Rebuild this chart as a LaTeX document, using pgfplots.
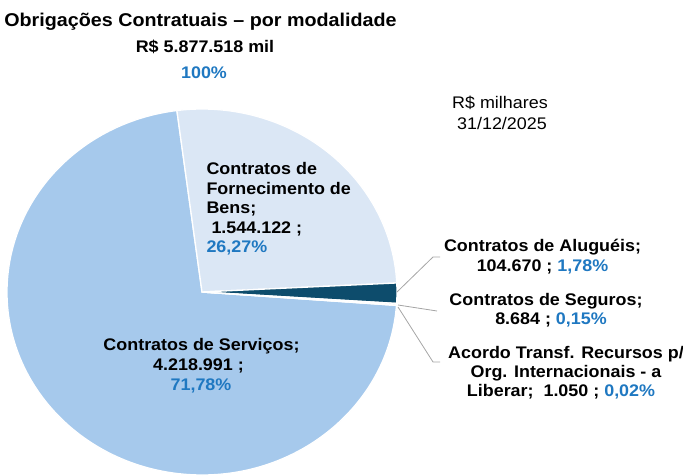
\documentclass[border=0pt]{standalone}
\usepackage{pgfplots}
\pgfplotsset{compat=1.18}
\usepackage{fontspec}
\setmainfont{Liberation Sans}[FakeStretch=1.066]
\definecolor{serv}{HTML}{A6C9EC}
\definecolor{bens}{HTML}{DBE7F5}
\definecolor{alug}{HTML}{0D4C6C}
\definecolor{seg}{HTML}{C8DCF2}
\definecolor{pct}{HTML}{1F78C1}
\definecolor{lead}{HTML}{A6A6A6}
% values (R$ mil)
\def\vServ{4218991}
\def\vBens{1544122}
\def\vAlug{104670}
\def\vSeg{8684}
\def\vAco{1050}
\edef\tot{\fpeval{\vServ+\vBens+\vAlug+\vSeg+\vAco}}
\edef\aA{97.4}
\edef\aB{\fpeval{round(\aA-360*\vBens/\tot,4)}}
\edef\aC{\fpeval{round(\aB-360*\vAlug/\tot,4)}}
\edef\aD{\fpeval{round(\aC-360*\vSeg/\tot,4)}}
\edef\aE{\fpeval{round(\aD-360*\vAco/\tot,4)}}
\edef\aF{\fpeval{round(\aA-360,4)}}
\newcommand\sector[3]{\fill[#3,draw=white,line width=1.3pt,line join=round] (axis cs:202,292) -- ++(#1:195pt and 183pt) arc[start angle=#1,end angle=#2,x radius=195pt,y radius=183pt] -- cycle;}
\newcommand\lab{\bfseries\fontsize{16.8}{19}\selectfont}
\begin{document}
\begin{tikzpicture}
\begin{axis}[width=683pt,height=476pt,scale only axis,
  xmin=0,xmax=683,ymin=0,ymax=476,y dir=reverse,hide axis,clip=true]
\sector{\aE}{\aF}{serv}
\sector{\aA}{\aB}{bens}
\sector{\aB}{\aC}{alug}
\sector{\aC}{\aD}{seg}
\sector{\aD}{\aE}{seg}
% leader lines
\draw[lead,line width=0.8pt] (axis cs:397,292) -- (axis cs:433,257) -- (axis cs:440,257);
\draw[lead,line width=0.8pt] (axis cs:398,305) -- (axis cs:437,311);
\draw[lead,line width=0.8pt] (axis cs:398,307) -- (axis cs:433,362) -- (axis cs:440,362);
% title
\node[anchor=base,font=\bfseries\fontsize{18.5}{21}\selectfont] at (axis cs:200.5,26.5) {Obrigações Contratuais – por modalidade};
\node[anchor=base,font=\bfseries\fontsize{16.8}{19}\selectfont] at (axis cs:205,52.5) {R\$ 5.877.518 mil};
\node[anchor=base,font=\bfseries\fontsize{16.8}{19}\selectfont,text=pct] at (axis cs:204,78.5) {100\%};
% units
\node[anchor=base,font=\fontsize{16.8}{19}\selectfont] at (axis cs:500,109) {R\$ milhares};
\node[anchor=base,font=\fontsize{16.8}{19}\selectfont] at (axis cs:502,130) {31/12/2025};
% Bens
\node[anchor=base west,font=\lab] at (axis cs:203,174.5) {Contratos de};
\node[anchor=base west,font=\lab] at (axis cs:203,194.5) {Fornecimento de};
\node[anchor=base west,font=\lab] at (axis cs:203,213.5) {Bens;};
\node[anchor=base west,font=\lab] at (axis cs:208,233.5) {1.544.122 ;};
\node[anchor=base west,font=\lab,text=pct] at (axis cs:203,252.5) {26,27\%};
% Servicos
\node[anchor=base,font=\lab] at (axis cs:201.5,350.5) {Contratos de Serviços;};
\node[anchor=base,font=\lab] at (axis cs:201.5,370) {4.218.991 ;\phantom{;}};
\node[anchor=base,font=\lab,text=pct] at (axis cs:201,390.5) {71,78\%};
% Alugueis
\node[anchor=base,font=\lab] at (axis cs:542.5,251) {Contratos de Aluguéis;};
\node[anchor=base,font=\lab] at (axis cs:542.5,271) {104.670 ; \textcolor{pct}{1,78\%}};
% Seguros
\node[anchor=base,font=\lab] at (axis cs:546,305) {Contratos de Seguros;};
\node[anchor=base,font=\lab] at (axis cs:551,324.5) {8.684 ; \textcolor{pct}{0,15\%}};
% Acordo
\node[anchor=base,font=\lab] at (axis cs:566,358) {Acordo Transf. Recursos p/};
\node[anchor=base,font=\lab] at (axis cs:566,377.5) {Org. Internacionais - a};
\node[anchor=base,font=\lab] at (axis cs:561,396.5) {Liberar;\ \ 1.050 ; \textcolor{pct}{0,02\%}};
\end{axis}
\pgfresetboundingbox
\useasboundingbox (current axis.south west) rectangle (current axis.north east);
\end{tikzpicture}
\end{document}
